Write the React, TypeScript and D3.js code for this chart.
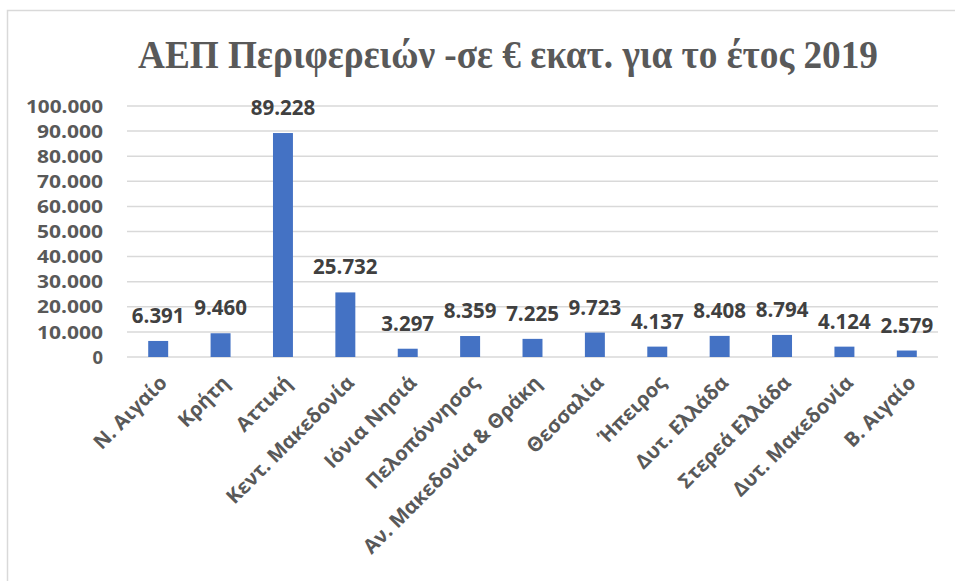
import React from "react";
import * as d3 from "d3";

const categories = [
  "Ν. Αιγαίο",
  "Κρήτη",
  "Αττική",
  "Κεντ. Μακεδονία",
  "Ιόνια Νησιά",
  "Πελοπόννησος",
  "Αν. Μακεδονία & Θράκη",
  "Θεσσαλία",
  "Ήπειρος",
  "Δυτ. Ελλάδα",
  "Στερεά Ελλάδα",
  "Δυτ. Μακεδονία",
  "Β. Αιγαίο",
];
const values = [6391, 9460, 89228, 25732, 3297, 8359, 7225, 9723, 4137, 8408, 8794, 4124, 2579];
const yTicks = [0, 10000, 20000, 30000, 40000, 50000, 60000, 70000, 80000, 90000, 100000];
const title = "ΑΕΠ Περιφερειών -σε € εκατ. για το έτος 2019";

const W = 955;
const H = 581;
const left = 127;
const right = 938;
const top = 106;
const bottom = 357;

const fmt = (v: number) => {
  const s = Math.round(v).toString();
  return s.replace(/\B(?=(\d{3})+(?!\d))/g, ".");
};

export default function App() {
  const x = d3.scaleBand<string>().domain(categories).range([left, right]).paddingInner(0.68).paddingOuter(0.34);
  const y = d3.scaleLinear().domain([0, 100000]).range([bottom, top]);
  const font = "'Open Sans', 'Noto Sans', sans-serif";
  return (
    <svg width={W} height={H} style={{ position: "absolute", left: 0, top: 0, background: "#fff" }}>
      <rect x={7.5} y={10.5} width={1000} height={700} fill="#fff" stroke="#d9d9d9" strokeWidth={1.5} />
      <text
        x={508}
        y={68}
        textAnchor="middle"
        fontFamily="'Liberation Serif', 'Times New Roman', serif"
        fontWeight="bold"
        fontSize={39}
        fill="#595959"
        textLength={740}
        lengthAdjust="spacingAndGlyphs"
      >
        {title}
      </text>
      {yTicks.map((t) => (
        <g key={t}>
          <line x1={left} x2={right} y1={y(t)} y2={y(t)} stroke="#d9d9d9" strokeWidth={1.5} />
          <text
            x={103}
            y={y(t)}
            dy="0.36em"
            textAnchor="end"
            fontFamily={font}
            fontWeight="bold"
            fontSize={18.4}
            fill="#595959"
            textLength={fmt(t).length > 1 ? (fmt(t).length === 7 ? 77 : 66) : undefined}
            lengthAdjust="spacingAndGlyphs"
          >
            {fmt(t)}
          </text>
        </g>
      ))}
      {categories.map((c, i) => {
        const bx = x(c)!;
        const bw = x.bandwidth();
        const cx = bx + bw / 2;
        return (
          <g key={c}>
            <rect x={bx} y={y(values[i])} width={bw} height={bottom - y(values[i])} fill="#4472C4" />
            <text x={cx} y={y(values[i]) - 18} textAnchor="middle" fontFamily={font} fontWeight="bold" fontSize={20.5} fill="#404040">
              {fmt(values[i])}
            </text>
            <text
              transform={`translate(${cx + 5},${bottom + 22}) rotate(-45)`}
              textAnchor="end"
              dy="0.36em"
              fontFamily={font}
              fontWeight="bold"
              fontSize={20}
              fill="#595959"
            >
              {c}
            </text>
          </g>
        );
      })}
    </svg>
  );
}
